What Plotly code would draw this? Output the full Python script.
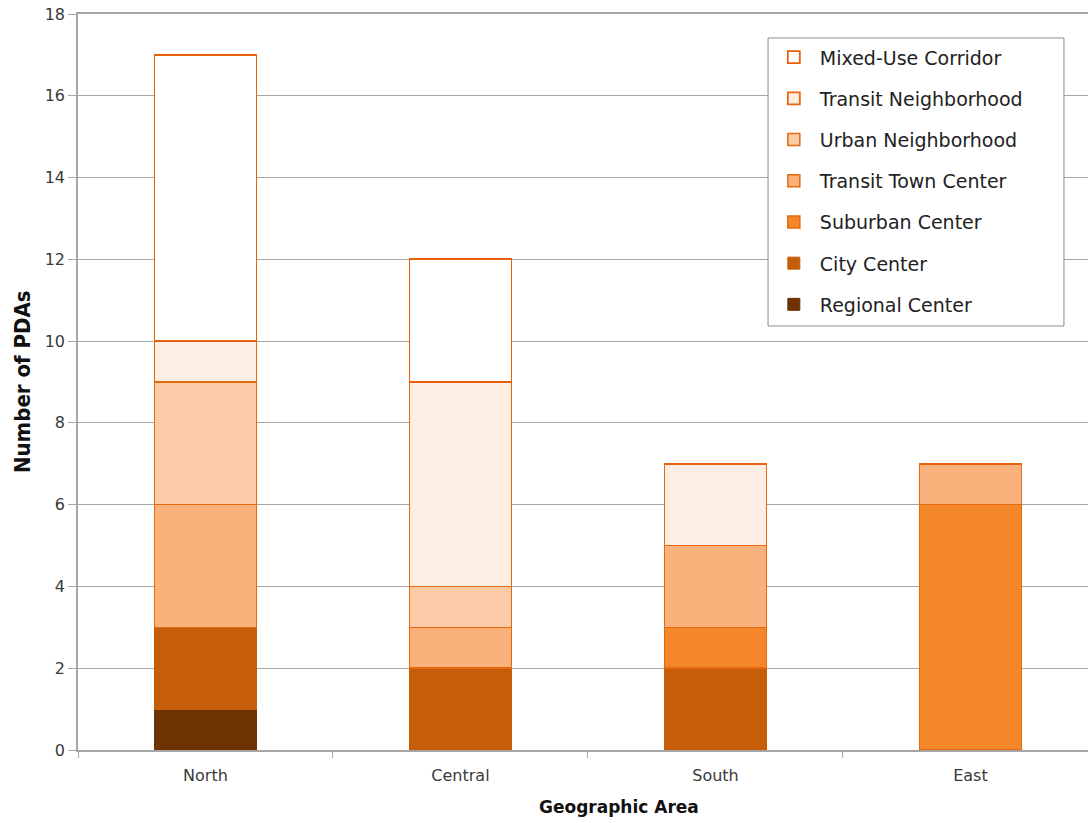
import plotly.graph_objects as go

areas = ["North", "Central", "South", "East"]
series_names = ["Regional Center", "City Center", "Suburban Center", "Transit Town Center",
                "Urban Neighborhood", "Transit Neighborhood", "Mixed-Use Corridor"]
regional_center = [1, 0, 0, 0]
city_center = [2, 2, 2, 0]
suburban_center = [0, 0, 1, 6]
transit_town_center = [3, 1, 2, 1]
urban_neighborhood = [3, 1, 0, 0]
transit_neighborhood = [1, 5, 2, 0]
mixed_use_corridor = [7, 3, 0, 0]
y_ticks = [0, 2, 4, 6, 8, 10, 12, 14, 16, 18]

values = [regional_center, city_center, suburban_center, transit_town_center,
          urban_neighborhood, transit_neighborhood, mixed_use_corridor]
fills = ["#6E3303", "#C65D09", "#F5872B", "#F9B27C", "#FBCBA7", "#FDEEE3", "#FFFFFF"]
lines = ["#6E3303", "#C65D09", "#E8680F", "#E8680F", "#E8680F", "#E8680F", "#E8600A"]
line_widths = [1, 1, 1.5, 1.5, 1.5, 1.8, 1.8]

fig = go.Figure()
n = len(series_names)
for i, (name, vals, fc, lc, lw) in enumerate(zip(series_names, values, fills, lines, line_widths)):
    fig.add_trace(go.Bar(
        x=areas, y=vals, name=name, width=0.4,
        marker=dict(color=fc, line=dict(color=lc, width=lw)),
        legendgroup=name, legendrank=n - i,
    ))

font_family = "DejaVu Sans"
fig.update_layout(
    width=1088, height=823,
    barmode="stack",
    paper_bgcolor="white", plot_bgcolor="white",
    margin=dict(l=78, r=0, t=14, b=73, autoexpand=False),
    font=dict(family=font_family, color="#333333"),
    showlegend=True,
    legend=dict(
        x=0.683, y=0.967, xanchor="left", yanchor="top",
        bgcolor="rgba(0,0,0,0)", borderwidth=0,
        traceorder="grouped", tracegroupgap=13.5, itemwidth=42,
        font=dict(family=font_family, size=19, color="#222222"),
    ),
    shapes=[
        dict(type="rect", xref="paper", yref="paper",
             x0=0.6832, x1=0.9762, y0=0.5761, y1=0.9674,
             line=dict(color="#8C8C8C", width=1), fillcolor="white", layer="above"),
    ],
    xaxis=dict(
        range=[-0.5, 3.461], showgrid=False, automargin=False,
        showline=True, mirror=True, linecolor="#A6A6A6", linewidth=1.5,
        ticks="outside", tickson="boundaries", ticklen=6, tickcolor="#A6A6A6",
        ticklabelstandoff=10,
        tickfont=dict(family=font_family, size=16, color="#3A3A3A"),
    ),
    yaxis=dict(
        range=[0, 18], tickvals=y_ticks, automargin=False,
        showgrid=True, gridcolor="#A6A6A6", gridwidth=1,
        showline=True, linecolor="#A6A6A6", linewidth=1.5,
        ticks="outside", ticklen=8, tickcolor="#A6A6A6",
        ticklabeloverflow="allow",
        tickfont=dict(family=font_family, size=16, color="#3A3A3A"),
        zeroline=False,
    ),
    annotations=[
        dict(text="<b>Number of PDAs</b>", textangle=-90, xref="paper", yref="paper",
             x=-0.0554, y=0.5, xanchor="center", yanchor="middle", showarrow=False,
             font=dict(family="DejaVu Sans Condensed", size=22, color="#111111")),
        dict(text="<b>Geographic Area</b>", xref="paper", yref="paper",
             x=0.536, y=-0.078, xanchor="center", yanchor="middle", showarrow=False,
             font=dict(family=font_family, size=17, color="#111111")),
    ],
)

fig.write_html("out.html", config={"displayModeBar": False},
               post_script="document.body.style.margin='0';")
